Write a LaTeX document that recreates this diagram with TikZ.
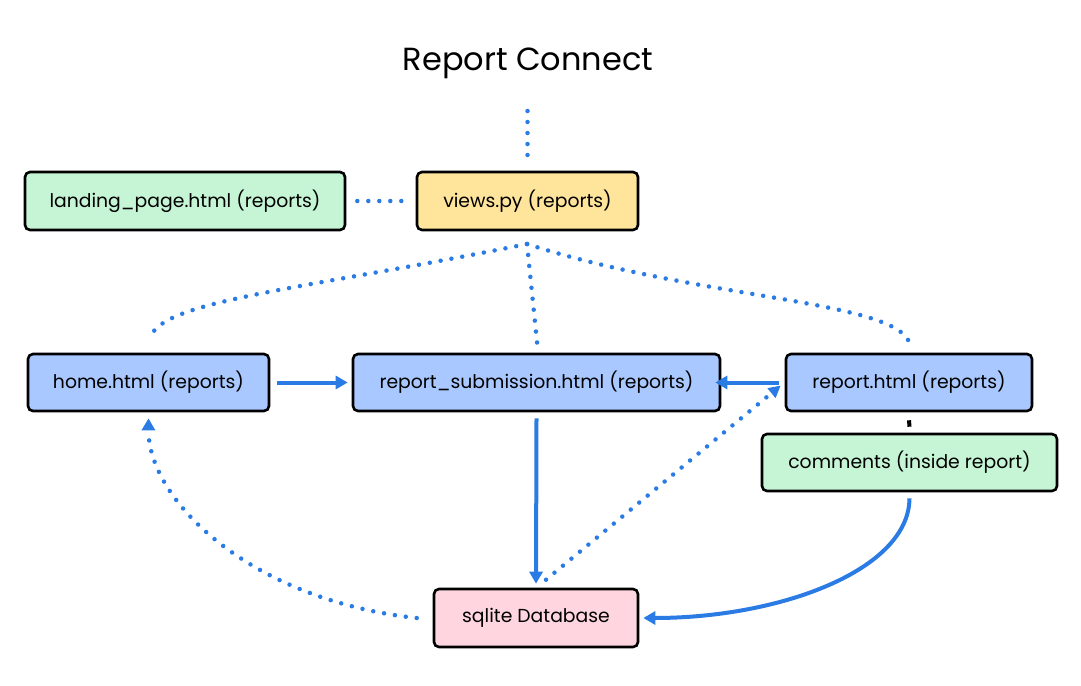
\documentclass[tikz,border=0pt]{standalone}
\usepackage{fontspec}
\setmainfont{Poppins}
\usetikzlibrary{arrows.meta}
\definecolor{lnblue}{HTML}{2B7BE4}
\definecolor{fgreen}{HTML}{C6F5D6}
\definecolor{fyellow}{HTML}{FFE59B}
\definecolor{fblue}{HTML}{A8C8FF}
\definecolor{fpink}{HTML}{FFD6E0}
\tikzset{
  boxnode/.style={draw=black, line width=2.6pt, rounded corners=5pt, inner sep=0pt,
    font=\fontsize{18.8}{22}\selectfont, text=black},
  dotline/.style={draw=lnblue, line width=4.5pt, line cap=round, dash pattern=on 0pt off 11pt},
  solidline/.style={draw=lnblue, line width=4pt},
  tip/.style={-{Triangle[length=12pt,width=13pt]}},
}
\begin{document}
\begin{tikzpicture}[x=1pt,y=-1pt]
\useasboundingbox (0,0) rectangle (1081,685);
\node[font=\fontsize{32}{38}\selectfont] (title) at (528,63) {Report Connect};

\node[boxnode, fill=fgreen, minimum width=320pt, minimum height=58pt] (landing) at (185,201) {landing\_page.html (reports)};
\node[boxnode, fill=fyellow, minimum width=221pt, minimum height=58pt] (views) at (527.5,201) {views.py (reports)};
\node[boxnode, fill=fblue, minimum width=241pt, minimum height=57pt] (home) at (148.5,382.5) {home.html (reports)};
\node[boxnode, fill=fblue, minimum width=367pt, minimum height=57pt] (sub) at (536.5,382.5) {report\_submission.html (reports)};
\node[boxnode, fill=fblue, minimum width=246pt, minimum height=57pt] (rep) at (909,382.5) {report.html (reports)};
\node[boxnode, fill=fgreen, minimum width=295pt, minimum height=57pt] (comm) at (909.5,462.5) {comments (inside report)};
\node[boxnode, fill=fpink, minimum width=204pt, minimum height=58pt] (db) at (536,618) {sqlite Database};

% top free dotted line
\coordinate (topA) at (527.5,111);
\coordinate (topB) at (527.5,157);
\draw[dotline] (topA) -- (topB);

% landing -- views
\draw[dotline] ([xshift=11pt]landing.east) -- ([xshift=-6pt]views.west);

% views to lower boxes
\coordinate (vb) at (527,244);
\draw[dotline] (vb) .. controls (300,290) and (165,300) .. ([xshift=2pt,yshift=16pt]home.north);
\draw[dotline] (vb) -- ([xshift=1pt,yshift=6pt]sub.north);
\draw[dotline] (vb) .. controls (700,300) and (900,300) .. ([xshift=1pt,yshift=8pt]rep.north);

% home -> submission
\draw[solidline, tip] ([xshift=7pt]home.east) -- ([xshift=-4pt]sub.west);
% report -> submission
\draw[solidline, tip] ([xshift=-6pt]rep.west) -- ([xshift=-6pt]sub.east);
% submission -> db
\draw[solidline, tip] ([yshift=-6pt]sub.south) -- ([yshift=4pt]db.north);
% db -> home dotted
\draw[dotline, -{Triangle[length=12pt,width=13pt,line cap=butt]}]
  ([xshift=-16pt]db.west) .. controls (250,600) and (148,500) .. ([yshift=-6pt]home.south);
% db -> report dotted
\draw[dotline, -{Triangle[length=12pt,width=12pt]}] ([xshift=10pt,yshift=8pt]db.north) -- ([xshift=-4pt,yshift=-3pt]rep.west);
% report -- comments
\draw[black, line width=4pt] ([yshift=-8pt]rep.south) -- ([yshift=6pt]comm.north);
% comments -> db
\draw[solidline, tip] ([yshift=-6pt]comm.south) .. controls (909,570) and (780,618) .. ([xshift=4pt]db.east);
\end{tikzpicture}
\end{document}
